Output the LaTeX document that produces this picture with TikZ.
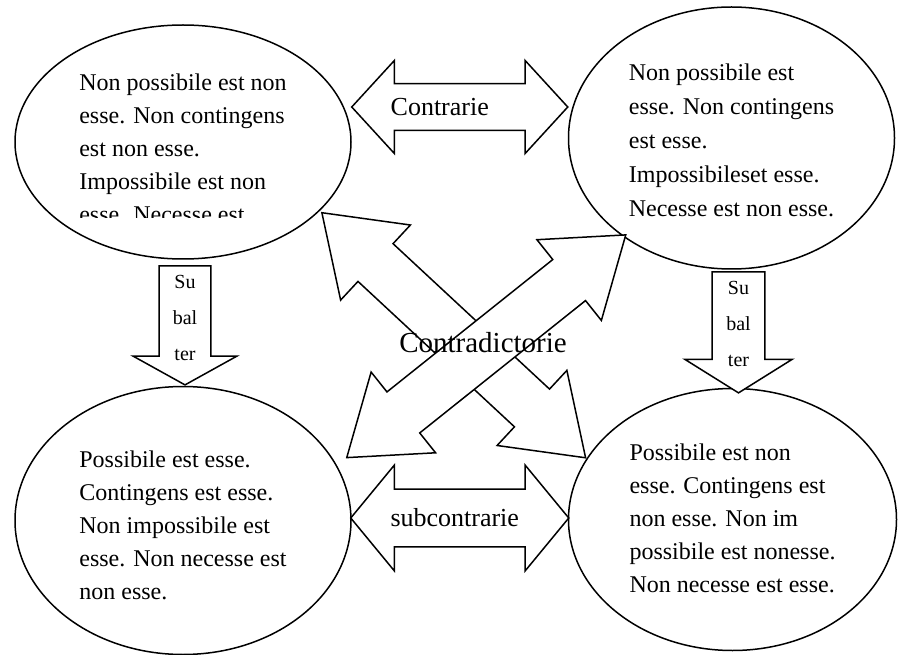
\documentclass[tikz,border=0pt]{standalone}
\usepackage{fontspec}
\setmainfont{Liberation Serif}
\usetikzlibrary{positioning,calc,shapes.geometric,shapes.arrows}
\tikzset{
  bubble/.style={ellipse, draw, line width=1.5pt, fill=white, inner sep=0pt},
  bubbletext/.style={inner sep=0pt, align=left, font=\fontsize{24}{33}\selectfont},
  wide/.style={double arrow, draw, line width=1.5pt, fill=white, inner xsep=0pt,
               double arrow head indent=0pt, font=\fontsize{26}{30}\selectfont},
  cross/.style={double arrow, draw, line width=1.5pt, fill=white, inner xsep=0pt,
                double arrow head indent=0pt},
  subalt/.style={single arrow, draw, line width=1.5pt, fill=white, shape border rotate=270,
                 align=center, inner ysep=0pt, single arrow head indent=0pt,
                 font=\fontsize{20}{36}\selectfont},
}
\begin{document}
\begin{tikzpicture}[x=1pt, y=-1pt]
  \useasboundingbox (0,0) rectangle (900,655);

  % the four corners of the square
  \node[bubble, minimum width=336pt, minimum height=234pt] (tl) at (183,142) {};
  \node[bubble, minimum width=326pt, minimum height=262pt, yshift=4pt] (tr) [right=216pt of tl] {};
  \node[bubble, minimum width=336pt, minimum height=268pt] (bl) [below=126pt of tl] {};
  \node[bubble, minimum width=328pt, minimum height=262pt, yshift=1pt] (br) [right=216pt of bl] {};

  \begin{scope}
    \clip (0,0) rectangle (360,218);
    \node[bubbletext, yshift=-6pt] (tltext) at (tl) {Non possibile est non\\esse. Non contingens\\est non esse.\\Impossibile est non\\esse. Necesse est};
  \end{scope}
  \node[bubbletext, font=\fontsize{24}{34}\selectfont, yshift=-2pt] (trtext) at (tr) {Non possibile est\\esse. Non contingens\\est esse.\\Impossibileset esse.\\Necesse est non esse.};
  \node[bubbletext, yshift=-5pt] (bltext) at (bl) {Possibile est esse.\\Contingens est esse.\\Non impossibile est\\esse. Non necesse est\\non esse.};
  \node[bubbletext, yshift=1pt] (brtext) at (br) {Possibile est non\\esse. Contingens est\\non esse. Non im\\possibile est nonesse.\\Non necesse est esse.};

  % contradictories
  \node[xshift=-4pt, yshift=-4.5pt, cross, rotate=-42.9, minimum height=360pt, inner ysep=25pt,
        double arrow head extend=25.5pt, double arrow tip angle=70] (cda) at ($(tl)!0.5!(br)$) {};
  \node[xshift=29pt, yshift=-17pt, cross, rotate=38.6, minimum height=357pt, inner ysep=25.5pt,
        double arrow head extend=25.4pt, double arrow tip angle=71] (cdb) at ($(bl)!0.5!(tr)$) {};
  \node[font=\fontsize{29}{34}\selectfont] (contra) at (483,343) {Contradictorie};

  % contraries and subcontraries
  \node[wide, minimum height=216pt, inner ysep=14pt, double arrow head extend=23pt,
        double arrow tip angle=95, yshift=33pt] (contr) at ($(tl.east)!0.5!(tr.west)$) {\kern-20pt Contrarie\kern20pt};
  \node[wide, minimum height=218pt, inner ysep=19pt, double arrow head extend=24pt,
        double arrow tip angle=101, yshift=2pt] (subc) at ($(bl.east)!0.5!(br.west)$) {\kern-5pt subcontrarie\kern5pt};

  % subalterns
  \node[subalt, anchor=tip, minimum height=119pt, inner xsep=12.8pt,
        single arrow head extend=26pt, single arrow tip angle=122, xshift=2pt] (suba) at (bl.north) {Su\\bal\\ter};
  \node[subalt, anchor=tip, minimum height=121pt, inner xsep=13.3pt,
        single arrow head extend=27.5pt, single arrow tip angle=116, xshift=6pt, yshift=-6pt] (subb) at (br.north) {Su\\bal\\ter};
\end{tikzpicture}
\end{document}
